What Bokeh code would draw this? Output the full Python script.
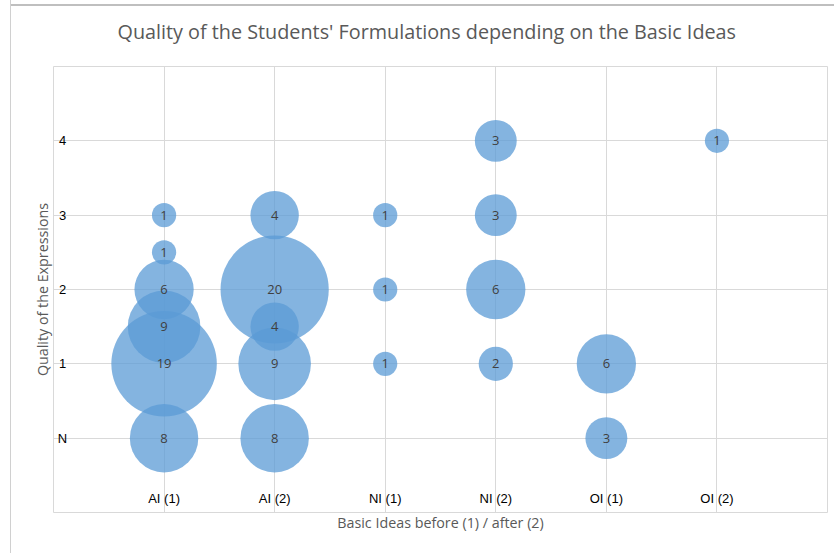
import numpy as np
from bokeh.plotting import figure
from bokeh.models import Range1d, FixedTicker, ColumnDataSource
from bokeh.core.properties import value
from bokeh.embed import file_html
from bokeh.resources import INLINE

# ---- data ----
title_text = "Quality of the Students' Formulations depending on the Basic Ideas"
categories = ["AI (1)", "AI (2)", "NI (1)", "NI (2)", "OI (1)", "OI (2)"]
quality_ticks = [0, 1, 2, 3, 4]
quality_labels = ["N", "1", "2", "3", "4"]

bubble_cat = ["AI (1)", "AI (1)", "AI (1)", "AI (1)", "AI (1)", "AI (1)",
              "AI (2)", "AI (2)", "AI (2)", "AI (2)", "AI (2)",
              "NI (1)", "NI (1)", "NI (1)",
              "NI (2)", "NI (2)", "NI (2)", "NI (2)",
              "OI (1)", "OI (1)",
              "OI (2)"]
bubble_quality = [3, 2.5, 2, 1.5, 1, 0,
                  3, 2, 1.5, 1, 0,
                  3, 2, 1,
                  4, 3, 2, 1,
                  1, 0,
                  4]
bubble_count = [1, 1, 6, 9, 19, 8,
                4, 20, 4, 9, 8,
                1, 1, 1,
                3, 3, 6, 2,
                6, 3,
                1]

# ---- figure ----
GRID = "#d9d9d9"
p = figure(width=823, height=560, output_backend="svg", toolbar_location=None,
           x_range=Range1d(0, len(categories) + 1), y_range=Range1d(-1, 5),
           min_border_left=42, min_border_right=7, min_border_top=40, min_border_bottom=41,
           frame_width=774, frame_height=446)
p.border_fill_color = None
p.styles = {"margin-left": "10px", "margin-top": "-7px",
            "border-left": "1px solid #d0d0d0",
            "box-shadow": "inset 0 11px 0 0 #ffffff, inset 0 13px 0 0 #bfbfbf"}

p.title.text = title_text
p.title.align = "left"
p.title.offset = 64
p.title.standoff = 44
p.title.text_font = "Open Sans"
p.title.text_font_size = "19.8px"
p.title.text_font_style = "normal"
p.title.text_color = "#595959"

p.outline_line_color = GRID
p.xgrid.ticker = FixedTicker(ticks=list(range(1, len(categories) + 1)))
p.ygrid.ticker = FixedTicker(ticks=quality_ticks)
p.xgrid.grid_line_color = GRID
p.ygrid.grid_line_color = GRID

for ax in (p.xaxis, p.yaxis):
    ax.ticker = FixedTicker(ticks=[])
    ax.axis_line_color = None
    ax.major_tick_line_color = None
    ax.minor_tick_line_color = None
    ax.axis_label_text_font = "Open Sans"
    ax.axis_label_text_font_size = "14.3px"
    ax.axis_label_text_font_style = "normal"
    ax.axis_label_text_color = "#595959"
p.xaxis.axis_label = "Basic Ideas before (1) / after (2)"
p.yaxis.axis_label = "Quality of the Expressions"
p.xaxis.axis_label_standoff = 0
p.yaxis.axis_label_standoff = 2

# bubbles
bx = [categories.index(c) + 1 for c in bubble_cat]
src = ColumnDataSource(dict(x=bx, y=bubble_quality, n=bubble_count,
                            size=[24.2 * np.sqrt(v) for v in bubble_count],
                            label=[str(v) for v in bubble_count]))
p.scatter("x", "y", size="size", source=src, fill_color="#5B9BD5",
          fill_alpha=0.75, line_color=None)
p.text("x", "y", text="label", source=src, text_align="center", text_baseline="middle",
       text_font=value("Open Sans"), text_font_size="13px", text_color="#404040")

# tick labels drawn inside the frame
p.text(x=[0] * len(quality_ticks), y=quality_ticks, text=quality_labels,
       x_offset=9, text_align="center", text_baseline="middle",
       text_font=value("Liberation Sans"), text_font_size="13px", text_color="#000000")
p.text(x=list(range(1, len(categories) + 1)), y=[-1] * len(categories), text=categories,
       y_offset=-14, text_align="center", text_baseline="middle",
       text_font=value("Liberation Sans"), text_font_size="13px", text_color="#000000")

open("out.html", "w").write(file_html(p, INLINE))
